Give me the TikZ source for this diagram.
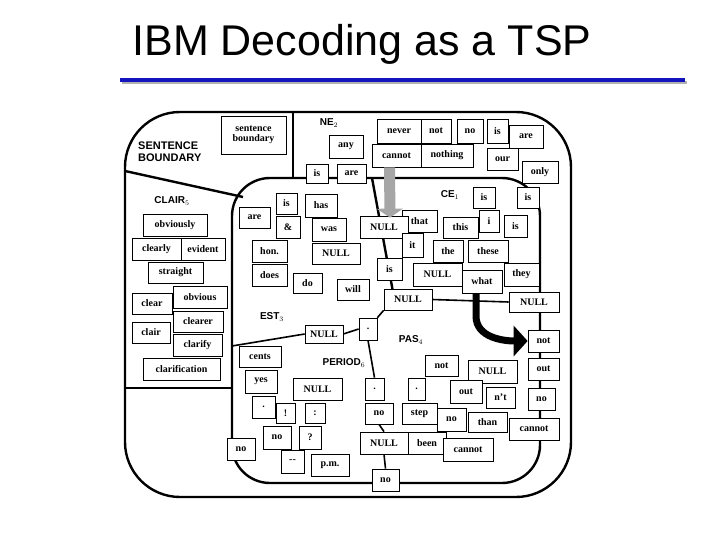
\documentclass[tikz,border=0pt]{standalone}
\usepackage{fontspec}
\setmainfont{Liberation Serif}
\newfontfamily\headfont{Liberation Sans}
\usetikzlibrary{fit,arrows.meta}
\definecolor{rulecol}{RGB}{20,20,190}
\tikzset{
  word/.style={draw, fill=white, inner sep=0pt, line width=0.7pt},
  wordtext/.style={inner sep=0pt, align=center,
    font=\fontsize{10}{10.5}\selectfont\bfseries},
  region/.style={line width=2.4pt},
  tag/.style={font=\headfont\fontsize{10}{11}\selectfont\bfseries, inner sep=0pt},
  link/.style={line width=1.6pt}
}
% word box from corner (x1,y1) to corner (x2,y2)
\newcommand{\wbox}[6]{\node[word, fit={(#2,#3) (#4,#5)}] (#1) {};
  \node[wordtext] at (#1.center) {#6};}
\begin{document}
\begin{tikzpicture}[x=1pt,y=-1pt]
\useasboundingbox (0,0) rectangle (720,540);

% title and rule
\node[font=\headfont\fontsize{43}{46}\selectfont] (title) at (362,44) {IBM Decoding as a TSP};
\draw[line width=3pt, gray!60] (122,83) -- (687,83);
\draw[line width=3.5pt, rulecol] (120,80) -- (685,80);

% regions
\draw[region, rounded corners=55] (125,112) rectangle (571,497);
\draw[region, rounded corners=38] (232,178) rectangle (540,483);
\draw[region] (293,112) -- (293,178);
\draw[region] (125,171) -- (243,197);
\draw[region] (125,388) -- (232,388);
\draw[region] (372,178) -- (393,292);

% SENTENCE BOUNDARY and NE
\node[tag, align=left, anchor=north west, font=\headfont\fontsize{11}{12}\selectfont\bfseries] (sbtag) at (138,142) {SENTENCE\\BOUNDARY};
\wbox{sb}{221}{116}{286}{154}{sentence\\boundary}
\node[tag] (netag) at (329,123) {NE$_2$};
\wbox{any}{329}{135}{363}{158}{any}
\wbox{isa}{306}{164}{328}{183}{is}
\wbox{area}{337}{164}{366}{183}{are}
\wbox{never}{377}{119}{421}{143}{never}
\wbox{nota}{421}{119}{451}{143}{not}
\wbox{noa}{457}{119}{483}{143}{no}
\wbox{isb}{487}{119}{508}{143}{is}
\wbox{areb}{509}{125}{543}{148}{are}
\wbox{cannota}{372}{144}{421}{167}{cannot}
\wbox{nothing}{421}{144}{473}{167}{nothing}
\wbox{our}{487}{148}{518}{170}{our}
\wbox{only}{522}{161}{558}{183}{only}

% CLAIR
\node[tag] (clairtag) at (172,201) {CLAIR$_5$};
\wbox{obviously}{143}{214}{207}{236}{obviously}
\wbox{clearly}{132}{238}{181}{260}{clearly}
\wbox{evident}{181}{238}{225}{260}{evident}
\wbox{straight}{148}{262}{203}{283}{straight}
\wbox{clear}{132}{293}{172}{314}{clear}
\wbox{obvious}{173}{286}{227}{308}{obvious}
\wbox{clearer}{173}{311}{223}{332}{clearer}
\wbox{clair}{132}{322}{170}{343}{clair}
\wbox{clarify}{173}{334}{222}{356}{clarify}
\wbox{clarification}{143}{358}{220}{380}{clarification}

% CE
\node[tag] (cetag) at (450,195) {CE$_1$};
\wbox{isc}{473}{187}{495}{208}{is}
\wbox{isd}{517}{187}{539}{208}{is}
\wbox{that}{402}{210}{437}{232}{that}
\wbox{nulla}{360}{216}{408}{238}{NULL}
\wbox{this}{443}{217}{478}{238}{this}
\wbox{i}{479}{210}{499}{232}{i}
\wbox{ise}{504}{215}{527}{237}{is}
\wbox{it}{402}{233}{423}{257}{it}
\wbox{the}{433}{240}{463}{262}{the}
\wbox{these}{468}{240}{508}{262}{these}
\wbox{isf}{377}{258}{402}{280}{is}
\wbox{nullb}{413}{263}{462}{286}{NULL}
\wbox{what}{462}{270}{502}{293}{what}
\wbox{they}{504}{263}{539}{286}{they}

% central words
\wbox{isg}{276}{193}{297}{214}{is}
\wbox{has}{305}{194}{337}{217}{has}
\wbox{arec}{239}{207}{270}{228}{are}
\wbox{amp}{276}{216}{300}{238}{\&}
\wbox{was}{312}{218}{346}{241}{was}
\wbox{hon}{252}{240}{287}{262}{hon.}
\wbox{nullc}{312}{243}{360}{264}{NULL}
\wbox{does}{252}{264}{287}{286}{does}
\wbox{do}{293}{273}{322}{293}{do}
\wbox{will}{337}{279}{369}{300}{will}
\wbox{nulld}{384}{289}{432}{310}{NULL}
\wbox{nulle}{509}{292}{559}{312}{NULL}

% EST and PERIOD
\node[tag] (esttag) at (272,317) {EST$_3$};
\wbox{nullf}{305}{325}{343}{343}{NULL}
\wbox{dota}{359}{318}{377}{340}{.}
\wbox{cents}{239}{346}{281}{367}{cents}
\node[tag] (periodtag) at (344,363) {PERIOD$_6$};
\wbox{yes}{245}{370}{277}{393}{yes}
\wbox{nullg}{293}{378}{342}{400}{NULL}
\wbox{dotb}{252}{396}{275}{418}{.}
\wbox{excl}{276}{403}{295}{423}{!}
\wbox{colon}{305}{403}{325}{423}{:}
\wbox{nob}{263}{426}{291}{449}{no}
\wbox{quest}{299}{426}{321}{449}{?}
\wbox{dash}{281}{450}{304}{473}{{-}{-}}
\wbox{pm}{311}{454}{349}{476}{p.m.}
\wbox{noc}{227}{438}{255}{460}{no}

% PAS
\node[tag] (pastag) at (411,340) {PAS$_4$};
\wbox{notb}{425}{355}{458}{376}{not}
\wbox{nullh}{468}{360}{517}{383}{NULL}
\wbox{dotc}{365}{378}{384}{400}{.}
\wbox{dotd}{408}{378}{425}{400}{.}
\wbox{outa}{450}{380}{482}{403}{out}
\wbox{nt}{486}{387}{515}{408}{n't}
\wbox{nod}{365}{403}{393}{424}{no}
\wbox{step}{402}{403}{437}{424}{step}
\wbox{noe}{437}{408}{466}{431}{no}
\wbox{than}{468}{412}{507}{432}{than}
\wbox{nulli}{360}{432}{408}{454}{NULL}
\wbox{been}{408}{432}{446}{454}{been}
\wbox{cannotb}{443}{438}{493}{461}{cannot}
\wbox{nof}{372}{469}{399}{491}{no}

% right column
\wbox{notc}{528}{330}{559}{352}{not}
\wbox{outb}{528}{358}{559}{380}{out}
\wbox{nog}{528}{388}{555}{410}{no}
\wbox{cannotc}{509}{418}{559}{440}{cannot}

% connectors
\coordinate (estend) at (232,346);
\draw[link] (estend) -- (nullf.west);
\draw[link] (nullf.east) -- (dota.west);
\draw[link] (dota.north east) -- (nulld.south west);
\draw[link] (nulld.east) -- (nulle.west);
\draw[link] (dota.south) -- (dotc.north);
\draw[link] (nod.south) -- (nulli.north);
\draw[link] (nulli.south) -- (nof.north);

% arrows
\draw[line width=11pt, gray!70, -{Triangle[length=9pt,width=26pt]}]
  ([xshift=-7pt]cannota.south) -- ([xshift=6pt,yshift=-2pt]nulla.north);
\draw[line width=7pt, -{Triangle[length=14pt,width=30pt]}]
  ([xshift=-6pt]what.south) -- (476,316) to[out=-90,in=180] (notc.west);
\end{tikzpicture}
\end{document}
